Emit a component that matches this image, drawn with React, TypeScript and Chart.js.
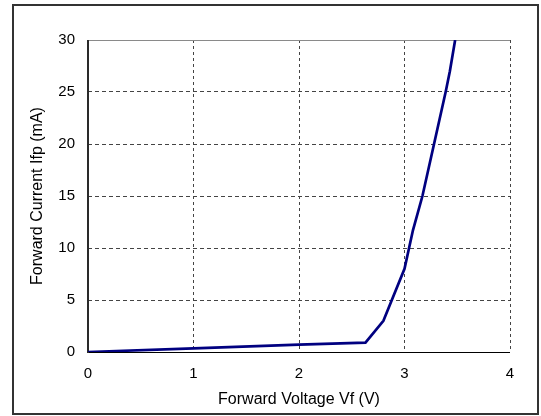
import React, { useEffect, useRef } from "react";
import { Chart, registerables } from "chart.js";

Chart.register(...registerables);

// Forward voltage (V) and forward current (mA) along the I–V curve
const forwardVoltage = [0, 1, 2, 2.63, 2.8, 2.88, 3.0, 3.08, 3.17, 3.28, 3.39, 3.43, 3.48];
const forwardCurrent = [0, 0.35, 0.7, 0.9, 3, 5, 8, 11.7, 15, 20, 25, 27, 30];

const xTicks = [0, 1, 2, 3, 4];
const yTicks = [0, 5, 10, 15, 20, 25, 30];

const xTitle = "Forward Voltage Vf (V)";
const yTitle = "Forward Current Ifp (mA)";

const FONT = "'Liberation Sans', Arial, sans-serif";

// Plot edges (solid axes, grey top edge) and the outer frame of the figure
const framePlugin = {
  id: "frame",
  beforeDatasetsDraw(chart: any) {
    const { ctx, chartArea } = chart;
    const { left, right, top, bottom } = chartArea;
    ctx.save();
    ctx.setLineDash([]);
    ctx.strokeStyle = "#8a8a8a";
    ctx.lineWidth = 1;
    ctx.beginPath();
    ctx.moveTo(left, top + 0.5);
    ctx.lineTo(right, top + 0.5);
    ctx.stroke();
    ctx.strokeStyle = "#000";
    ctx.beginPath();
    ctx.moveTo(left, bottom + 0.5);
    ctx.lineTo(right, bottom + 0.5);
    ctx.stroke();
    ctx.strokeStyle = "#2a2a2a";
    ctx.lineWidth = 2;
    ctx.beginPath();
    ctx.moveTo(left, top);
    ctx.lineTo(left, bottom + 1);
    ctx.stroke();
    ctx.restore();
  },
  afterDraw(chart: any) {
    const { ctx } = chart;
    ctx.save();
    ctx.setLineDash([]);
    ctx.strokeStyle = "#333333";
    ctx.lineWidth = 2;
    ctx.strokeRect(13, 5, 525, 409);
    ctx.restore();
  },
};

export default function App() {
  const canvasRef = useRef<HTMLCanvasElement | null>(null);

  useEffect(() => {
    const canvas = canvasRef.current;
    if (!canvas) return;
    const points = forwardVoltage.map((v, i) => ({ x: v, y: forwardCurrent[i] }));
    const chart = new Chart(canvas, {
      type: "scatter",
      data: {
        datasets: [
          {
            data: points,
            showLine: true,
            borderColor: "#000080",
            borderWidth: 2.7,
            pointRadius: 0,
            tension: 0,
          },
        ],
      },
      options: {
        responsive: false,
        animation: false,
        layout: { padding: { top: 40, right: 31, bottom: 0, left: 0 } },
        plugins: { legend: { display: false }, tooltip: { enabled: false } },
        scales: {
          x: {
            type: "linear",
            min: 0,
            max: 4,
            afterFit(scale: any) {
              scale.height = 64;
            },
            afterBuildTicks(scale: any) {
              scale.ticks = xTicks.map((v) => ({ value: v }));
            },
            ticks: {
              color: "#000",
              padding: 13,
              font: { family: FONT, size: 15 },
            },
            grid: {
              color: (c: any) => (c.tick && c.tick.value === 0 ? "rgba(0,0,0,0)" : "#444"),
              lineWidth: 1,
              drawTicks: false,
            },
            border: { display: false, dash: [3, 3] },
            title: {
              display: true,
              text: xTitle,
              color: "#000",
              font: { family: FONT, size: 16 },
              padding: { top: 0, bottom: 7 },
            },
          },
          y: {
            type: "linear",
            min: 0,
            max: 30,
            afterFit(scale: any) {
              scale.width = 88;
            },
            afterBuildTicks(scale: any) {
              scale.ticks = yTicks.map((v) => ({ value: v }));
            },
            ticks: {
              color: "#000",
              padding: 13,
              font: { family: FONT, size: 15 },
            },
            grid: {
              color: (c: any) =>
                c.tick && (c.tick.value === 30 || c.tick.value === 0) ? "rgba(0,0,0,0)" : "#444",
              lineWidth: 1,
              drawTicks: false,
            },
            border: { display: false, dash: [4, 3] },
            title: {
              display: true,
              text: yTitle,
              color: "#000",
              font: { family: FONT, size: 16 },
              padding: { top: 28, bottom: 0 },
            },
          },
        },
      },
      plugins: [framePlugin],
    });
    return () => chart.destroy();
  }, []);

  return (
    <div style={{ position: "absolute", left: 0, top: 0, width: 541, height: 416, background: "#fff" }}>
      <canvas ref={canvasRef} width={541} height={416} />
    </div>
  );
}
